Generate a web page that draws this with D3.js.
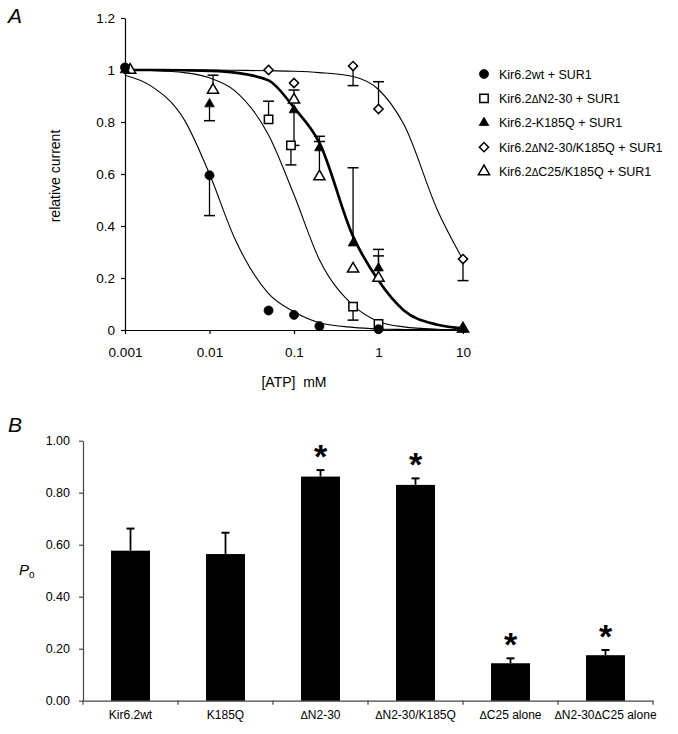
<!DOCTYPE html>
<html lang="en">
<head>
<meta charset="UTF-8">
<title>Kir6.2 ATP sensitivity and open probability</title>
<script src="https://d3js.org/d3.v7.min.js"></script>
<style>
  body { margin: 0; background: #fff; }
  svg { display: block; font-family: "Liberation Sans", Arial, sans-serif; }
</style>
</head>
<body>
<svg id="chart" width="678" height="734"></svg>
<script>
// ---------- panel A: [ATP] (mM), relative current, end of error bar (null = none)
const wtPoints       = [[0.001, 1.01, null], [0.01, 0.595, 0.44], [0.05, 0.075, null], [0.1, 0.058, null], [0.2, 0.015, null], [1, 0.003, null]];
const dN230Points    = [[0.05, 0.81, 0.88], [0.092, 0.71, 0.635], [0.5, 0.09, 0.038], [1, 0.023, null]];
const k185qPoints    = [[0.001, 1.0, null], [0.01, 0.869, 0.805], [0.1, 0.846, 0.71], [0.2, 0.70, 0.745], [0.5, 0.334, 0.624], [1, 0.238, 0.31], [10, 0.003, null]];
const dN230KPoints   = [[0.05, 1.0, null], [0.1, 0.95, null], [0.5, 1.015, 0.94], [1, 0.85, 0.955], [10, 0.273, 0.19]];
const dC25KPoints    = [[0.00115, 1.0, null], [0.011, 0.923, 0.98], [0.1, 0.885, 0.923], [0.2, 0.59, 0.725], [0.5, 0.235, null], [1, 0.2, 0.285], [10, 0.005, null]];

// fitted curves at these concentrations
const curveConc  = [0.001, 0.002, 0.005, 0.01, 0.02, 0.05, 0.1, 0.2, 0.5, 1, 2, 5, 10];
const wtFit      = [0.98, 0.94, 0.81, 0.60, 0.35, 0.14, 0.07, 0.028, 0.01, 0.004, 0.002, 0.001, 0.0005];
const dN230Fit   = [1.0, 0.998, 0.99, 0.97, 0.92, 0.75, 0.52, 0.27, 0.095, 0.033, 0.012, 0.003, 0.001];
const k185qFit   = [1.0, 1.0, 0.999, 0.997, 0.99, 0.96, 0.855, 0.72, 0.36, 0.19, 0.075, 0.02, 0.006];
const dN230KFit  = [1.0, 1.0, 1.0, 1.0, 0.999, 0.997, 0.995, 0.99, 0.975, 0.925, 0.79, 0.46, 0.27];

const legendLabels = ["Kir6.2wt + SUR1", "Kir6.2ΔN2-30 + SUR1", "Kir6.2-K185Q + SUR1", "Kir6.2ΔN2-30/K185Q + SUR1", "Kir6.2ΔC25/K185Q + SUR1"];
const xTicksA = [0.001, 0.01, 0.1, 1, 10];
const yTicksA = [0, 0.2, 0.4, 0.6, 0.8, 1, 1.2];

// ---------- panel B: open probability
const barLabels = ["Kir6.2wt", "K185Q", "ΔN2-30", "ΔN2-30/K185Q", "ΔC25 alone", "ΔN2-30ΔC25 alone"];
const poMeans = [0.577, 0.564, 0.862, 0.830, 0.144, 0.175];
const poSem = [0.085, 0.082, 0.025, 0.025, 0.019, 0.020];
const significant = [false, false, true, true, true, true];
const yTicksB = [0, 0.2, 0.4, 0.6, 0.8, 1.0];

const svg = d3.select("#chart");

// marker styles
const shapes = {
  circle:    { type: d3.symbolCircle,   size: 64, fill: "#000", rot: 0 },
  square:    { type: d3.symbolSquare,   size: 70, fill: "#fff", rot: 0 },
  triFilled: { type: d3.symbolTriangle, size: 40, fill: "#000", rot: 0 },
  triOpen:   { type: d3.symbolTriangle, size: 54, fill: "#fff", rot: 0 },
  diamond:   { type: d3.symbolSquare,   size: 42, fill: "#fff", rot: 45 }
};

function drawMarker(g, shape, x, y) {
  const s = shapes[shape];
  g.append("path")
    .attr("d", d3.symbol().type(s.type).size(s.size)())
    .attr("transform", `translate(${x},${y}) rotate(${s.rot})`)
    .attr("fill", s.fill)
    .attr("stroke", "#000")
    .attr("stroke-width", s.fill === "#000" ? 0.8 : 1.5);
}

// text with a smaller delta sign
function deltaText(sel, label, deltaSize) {
  label.split(/(Δ)/).forEach(part => {
    if (!part) return;
    const t = sel.append("tspan").text(part);
    if (part === "Δ") t.attr("font-size", deltaSize);
  });
}

// ================= panel A =================
const xA = d3.scaleLog().domain([0.001, 10]).range([125, 463]);
const yA = d3.scaleLinear().domain([0, 1.2]).range([330, 18]);

const gA = svg.append("g");

gA.append("g")
  .attr("transform", "translate(0,330)")
  .call(d3.axisBottom(xA).tickValues(xTicksA).tickFormat(d => String(d)).tickSize(4).tickSizeOuter(0).tickPadding(13))
  .call(g => g.selectAll("text").attr("font-size", 13.5).attr("font-family", null));

gA.append("g")
  .attr("transform", "translate(125,0)")
  .call(d3.axisLeft(yA).tickValues(yTicksA).tickFormat(d => String(d)).tickSize(4).tickSizeOuter(0).tickPadding(6))
  .call(g => g.selectAll("text").attr("font-size", 13.5).attr("font-family", null));

gA.selectAll(".domain, .tick line").attr("stroke", "#000").attr("stroke-width", 1.2);

gA.append("text")
  .attr("transform", "translate(60,176) rotate(-90)")
  .attr("text-anchor", "middle")
  .attr("font-size", 14)
  .text("relative current");

gA.append("text")
  .attr("x", 294).attr("y", 387)
  .attr("text-anchor", "middle")
  .attr("font-size", 14)
  .attr("xml:space", "preserve")
  .text("[ATP]  mM");

svg.append("text").attr("x", 8).attr("y", 23).attr("font-size", 21).attr("font-style", "italic").text("A");

const line = d3.line()
  .x((d, i) => xA(curveConc[i]))
  .y(d => yA(d))
  .curve(d3.curveMonotoneX);

const fits = [
  { vals: wtFit, w: 1.1 },
  { vals: dN230Fit, w: 1.1 },
  { vals: dN230KFit, w: 1.1 },
  { vals: k185qFit, w: 2.7 }
];
fits.forEach(f => {
  gA.append("path").attr("d", line(f.vals)).attr("fill", "none").attr("stroke", "#000").attr("stroke-width", f.w);
});

// drawing order: open triangles at the back, filled circles on top
const seriesA = [
  { pts: dC25KPoints, shape: "triOpen" },
  { pts: dN230KPoints, shape: "diamond" },
  { pts: dN230Points, shape: "square" },
  { pts: k185qPoints, shape: "triFilled" },
  { pts: wtPoints, shape: "circle" }
];

seriesA.forEach(s => {
  s.pts.forEach(([c, v, e]) => {
    if (e === null) return;
    const x = xA(c);
    gA.append("line").attr("x1", x).attr("x2", x).attr("y1", yA(v)).attr("y2", yA(e))
      .attr("stroke", "#000").attr("stroke-width", 1.3);
    gA.append("line").attr("x1", x - 5.5).attr("x2", x + 5.5).attr("y1", yA(e)).attr("y2", yA(e))
      .attr("stroke", "#000").attr("stroke-width", 1.5);
  });
});
seriesA.forEach(s => {
  s.pts.forEach(([c, v]) => drawMarker(gA, s.shape, xA(c), yA(v)));
});

// legend
const legendShapes = ["circle", "square", "triFilled", "diamond", "triOpen"];
const legendY = d3.scalePoint().domain(legendLabels).range([74, 171.5]);
legendLabels.forEach((lab, i) => {
  const y = legendY(lab);
  drawMarker(gA, legendShapes[i], 484, y);
  const t = gA.append("text").attr("x", 499).attr("y", y).attr("dy", "0.36em").attr("font-size", 12.5);
  deltaText(t, lab, 10);
});

// ================= panel B =================
const xB = d3.scaleBand().domain(barLabels).range([83, 653]).paddingInner(0.59).paddingOuter(0.295);
const yB = d3.scaleLinear().domain([0, 1]).range([700.7, 440.7]);

const gB = svg.append("g");

const xAxisB = gB.append("g")
  .attr("transform", "translate(0,700.7)")
  .call(d3.axisBottom(xB).tickSize(0).tickSizeOuter(0).tickPadding(10));
xAxisB.selectAll("text").attr("font-size", 12).attr("font-family", null).text(null)
  .each(function(d) { deltaText(d3.select(this), d, 11); });

// category separator ticks
d3.range(barLabels.length + 1).forEach(i => {
  const x = xB.range()[0] + i * xB.step();
  xAxisB.append("line").attr("x1", x).attr("x2", x).attr("y1", 0).attr("y2", 4);
});

gB.append("g")
  .attr("transform", "translate(83,0)")
  .call(d3.axisLeft(yB).tickValues(yTicksB).tickFormat(d3.format(".2f")).tickSize(4).tickSizeOuter(0).tickPadding(9))
  .call(g => g.selectAll("text").attr("font-size", 12.5).attr("font-family", null));

gB.selectAll(".domain, line").attr("stroke", "#444").attr("stroke-width", 1.2);

gB.selectAll("rect.bar")
  .data(barLabels)
  .join("rect")
  .attr("class", "bar")
  .attr("x", d => xB(d))
  .attr("width", xB.bandwidth())
  .attr("y", (d, i) => yB(poMeans[i]))
  .attr("height", (d, i) => yB(0) - yB(poMeans[i]))
  .attr("fill", "#000");

barLabels.forEach((d, i) => {
  const cx = xB(d) + xB.bandwidth() / 2;
  const top = yB(poMeans[i] + poSem[i]);
  gB.append("line").attr("x1", cx).attr("x2", cx).attr("y1", yB(poMeans[i])).attr("y2", top)
    .attr("stroke", "#000").attr("stroke-width", 1.8);
  gB.append("line").attr("x1", cx - 4).attr("x2", cx + 4).attr("y1", top).attr("y2", top)
    .attr("stroke", "#000").attr("stroke-width", 2);
  if (significant[i]) {
    gB.append("text")
      .attr("x", cx).attr("y", top - 21 + 19)
      .attr("text-anchor", "middle")
      .attr("font-size", 34).attr("font-weight", "bold")
      .text("*");
  }
});

const po = gB.append("text").attr("x", 19).attr("y", 575).attr("font-size", 15);
po.append("tspan").attr("font-style", "italic").text("P");
po.append("tspan").attr("font-size", 10).attr("dy", 3).text("o");

svg.append("text").attr("x", 8).attr("y", 432).attr("font-size", 21).attr("font-style", "italic").text("B");
</script>
</body>
</html>
